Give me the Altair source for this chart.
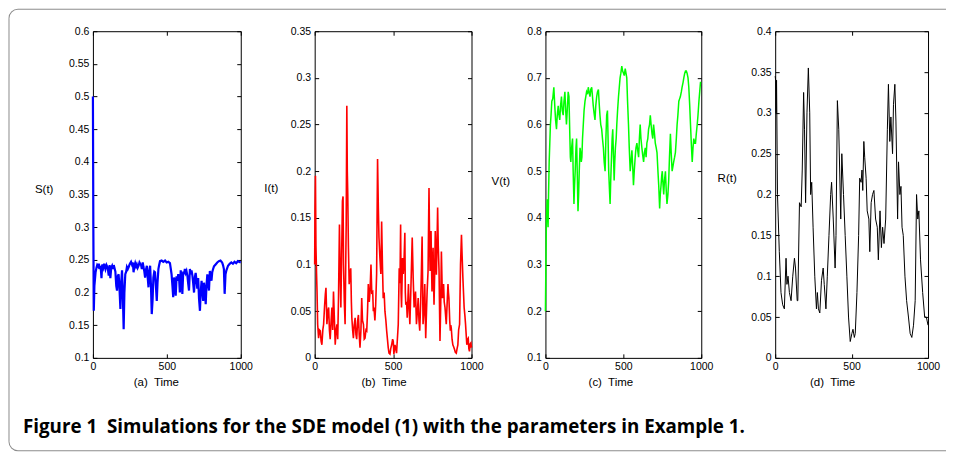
import altair as alt
import pandas as pd

# ---------------- data ----------------
X_TICKS = [0, 500, 1000]

S_T = [0, 3, 6, 10, 18, 24, 29, 35, 40, 46,
       52, 58, 63, 70, 76, 85, 92, 100, 107, 113,
       118, 124, 130, 136, 141, 152, 158, 163, 168, 174,
       180, 186, 191, 197, 203, 208, 213, 219, 225, 230,
       236, 242, 248, 253, 258, 264, 270, 275, 280, 286,
       292, 297, 303, 309, 315, 320, 326, 331, 337, 342,
       348, 353, 359, 365, 370, 376, 381, 387, 392, 398,
       404, 409, 415, 420, 426, 432, 437, 443, 448, 454,
       465, 476, 488, 499, 510, 521, 527, 532, 538, 543,
       549, 555, 560, 566, 572, 577, 583, 588, 594, 600,
       605, 611, 617, 622, 628, 633, 639, 645, 650, 656,
       662, 667, 673, 678, 684, 690, 695, 701, 706, 712,
       718, 724, 729, 735, 740, 746, 751, 757, 763, 768,
       774, 779, 785, 791, 796, 802, 807, 813, 819, 830,
       841, 852, 863, 874, 880, 886, 891, 897, 903, 914,
       925, 936, 947, 958, 969, 980, 1000]
S_V = [0.50, 0.30, 0.172, 0.21, 0.231, 0.238, 0.242, 0.240, 0.244, 0.236,
       0.241, 0.222, 0.243, 0.238, 0.244, 0.236, 0.242, 0.238, 0.226, 0.242,
       0.222, 0.238, 0.241, 0.236, 0.242, 0.232, 0.210, 0.203, 0.225, 0.228,
       0.205, 0.175, 0.215, 0.234, 0.190, 0.144, 0.200, 0.228, 0.232, 0.239,
       0.236, 0.239, 0.243, 0.245, 0.247, 0.243, 0.246, 0.231, 0.240, 0.245,
       0.240, 0.243, 0.238, 0.241, 0.246, 0.244, 0.242, 0.236, 0.246, 0.239,
       0.232, 0.223, 0.235, 0.241, 0.225, 0.208, 0.232, 0.241, 0.215, 0.167,
       0.190, 0.223, 0.232, 0.231, 0.210, 0.187, 0.215, 0.236, 0.242, 0.248,
       0.249, 0.247, 0.249, 0.246, 0.247, 0.245, 0.236, 0.228, 0.210, 0.193,
       0.223, 0.215, 0.195, 0.225, 0.218, 0.228, 0.222, 0.200, 0.234, 0.220,
       0.198, 0.232, 0.228, 0.236, 0.230, 0.233, 0.226, 0.213, 0.203, 0.236,
       0.228, 0.234, 0.226, 0.215, 0.200, 0.224, 0.230, 0.218, 0.206, 0.222,
       0.190, 0.172, 0.200, 0.218, 0.203, 0.187, 0.215, 0.205, 0.182, 0.210,
       0.228, 0.215, 0.203, 0.233, 0.228, 0.218, 0.231, 0.236, 0.240, 0.243,
       0.246, 0.248, 0.249, 0.246, 0.242, 0.236, 0.198, 0.228, 0.234, 0.241,
       0.244, 0.246, 0.244, 0.247, 0.245, 0.248, 0.246]

I_T = [0, 2, 5, 8, 12, 15, 19, 25, 30, 36,
       41, 46, 52, 57, 63, 68, 72, 78, 84, 89,
       94, 99, 105, 110, 115, 120, 126, 131, 137, 142,
       147, 152, 158, 163, 167, 172, 177, 181, 184, 189,
       194, 198, 201, 205, 208, 211, 215, 220, 225, 230,
       234, 237, 242, 247, 252, 258, 263, 268, 274, 279,
       284, 289, 295, 300, 305, 311, 316, 321, 327, 332,
       337, 342, 348, 353, 359, 364, 370, 374, 378, 384,
       389, 395, 401, 406, 410, 416, 422, 427, 432, 437,
       443, 448, 454, 459, 464, 469, 474, 480, 485, 491,
       497, 501, 505, 512, 517, 522, 533, 539, 544, 548,
       551, 554, 560, 565, 569, 575, 578, 581, 586, 590,
       594, 598, 603, 607, 613, 622, 628, 634, 638, 643,
       649, 655, 660, 665, 670, 676, 681, 685, 691, 697,
       702, 708, 713, 717, 723, 729, 733, 736, 742, 745,
       748, 755, 758, 761, 765, 769, 773, 776, 780, 784,
       788, 793, 799, 804, 808, 811, 814, 818, 822, 826,
       831, 835, 839, 845, 850, 853, 856, 861, 865, 868,
       871, 876, 881, 886, 892, 897, 903, 908, 913, 918,
       924, 930, 936, 940, 945, 949, 953, 958, 962, 966,
       970, 975, 979, 983, 987, 992, 996, 1000]
I_V = [0.10, 0.16, 0.195, 0.12, 0.09, 0.071, 0.036, 0.021, 0.03, 0.029,
       0.018, 0.014, 0.03, 0.036, 0.055, 0.068, 0.075, 0.036, 0.05, 0.054,
       0.03, 0.02, 0.04, 0.054, 0.03, 0.071, 0.04, 0.014, 0.03, 0.036,
       0.02, 0.064, 0.143, 0.09, 0.054, 0.11, 0.168, 0.173, 0.1, 0.06,
       0.036, 0.1, 0.143, 0.27, 0.2, 0.175, 0.12, 0.079, 0.09, 0.096,
       0.06, 0.043, 0.03, 0.021, 0.035, 0.043, 0.025, 0.02, 0.04, 0.046,
       0.025, 0.011, 0.03, 0.064, 0.04, 0.036, 0.02, 0.021, 0.03, 0.029,
       0.05, 0.079, 0.06, 0.071, 0.1, 0.07, 0.071, 0.05, 0.054, 0.04,
       0.057, 0.09, 0.213, 0.16, 0.129, 0.107, 0.09, 0.146, 0.1, 0.064,
       0.07, 0.05, 0.04, 0.029, 0.02, 0.011, 0.005, 0.004, 0.01, 0.014,
       0.02, 0.018, 0.004, 0.014, 0.01, 0.005, 0.036, 0.096, 0.08, 0.143,
       0.07, 0.054, 0.107, 0.09, 0.1, 0.134, 0.07, 0.057, 0.06, 0.043,
       0.06, 0.079, 0.05, 0.036, 0.071, 0.129, 0.086, 0.054, 0.06, 0.071,
       0.036, 0.05, 0.064, 0.04, 0.029, 0.06, 0.096, 0.13, 0.036, 0.05,
       0.079, 0.021, 0.05, 0.071, 0.093, 0.182, 0.12, 0.093, 0.136, 0.1,
       0.071, 0.118, 0.08, 0.057, 0.09, 0.136, 0.11, 0.089, 0.12, 0.161,
       0.12, 0.093, 0.018, 0.06, 0.114, 0.09, 0.064, 0.07, 0.079, 0.06,
       0.054, 0.045, 0.036, 0.06, 0.079, 0.07, 0.064, 0.04, 0.029, 0.035,
       0.032, 0.02, 0.014, 0.012, 0.009, 0.006, 0.005, 0.01, 0.014, 0.03,
       0.036, 0.1, 0.132, 0.11, 0.086, 0.07, 0.054, 0.045, 0.036, 0.025,
       0.014, 0.02, 0.021, 0.01, 0.007, 0.015, 0.016, 0.011]

V_T = [0, 3, 6, 11, 14, 17, 20, 24, 28, 32,
       36, 41, 47, 54, 57, 60, 65, 71, 76, 82,
       87, 92, 97, 103, 108, 114, 119, 125, 130, 135,
       140, 146, 151, 157, 160, 163, 168, 174, 178, 183,
       187, 191, 196, 200, 204, 209, 213, 217, 222, 226,
       230, 234, 238, 243, 248, 254, 259, 264, 270, 275,
       280, 286, 291, 297, 302, 307, 312, 318, 323, 329,
       334, 340, 345, 350, 355, 361, 366, 372, 377, 383,
       388, 393, 398, 402, 406, 411, 415, 419, 424, 428,
       432, 437, 441, 445, 449, 454, 458, 463, 469, 474,
       479, 484, 490, 495, 501, 506, 512, 517, 522, 527,
       533, 538, 544, 549, 555, 560, 565, 570, 576, 581,
       587, 592, 598, 603, 608, 613, 619, 624, 630, 635,
       641, 646, 651, 657, 662, 668, 673, 678, 684, 689,
       694, 700, 705, 711, 716, 722, 727, 733, 737, 742,
       746, 750, 755, 759, 764, 770, 775, 780, 786, 791,
       796, 802, 807, 813, 818, 823, 829, 834, 840, 845,
       850, 856, 861, 866, 872, 877, 883, 888, 894, 899,
       904, 909, 915, 920, 926, 931, 936, 942, 947, 952,
       958, 963, 968, 974, 979, 985, 990, 995, 1000]
V_V = [0.20, 0.30, 0.39, 0.44, 0.41, 0.38, 0.45, 0.52, 0.56, 0.60,
       0.62, 0.65, 0.655, 0.68, 0.66, 0.64, 0.61, 0.59, 0.62, 0.64,
       0.62, 0.61, 0.64, 0.66, 0.63, 0.62, 0.65, 0.67, 0.63, 0.60,
       0.63, 0.67, 0.66, 0.57, 0.53, 0.52, 0.55, 0.57, 0.50, 0.43,
       0.47, 0.50, 0.55, 0.57, 0.50, 0.414, 0.45, 0.50, 0.55, 0.54,
       0.52, 0.53, 0.57, 0.60, 0.63, 0.65, 0.66, 0.67, 0.665, 0.68,
       0.67, 0.66, 0.675, 0.68, 0.66, 0.64, 0.625, 0.61, 0.64, 0.66,
       0.67, 0.675, 0.645, 0.62, 0.60, 0.59, 0.57, 0.55, 0.52, 0.50,
       0.57, 0.62, 0.63, 0.57, 0.50, 0.46, 0.43, 0.48, 0.53, 0.57,
       0.59, 0.53, 0.48, 0.52, 0.55, 0.57, 0.60, 0.63, 0.66, 0.68,
       0.70, 0.71, 0.725, 0.715, 0.71, 0.705, 0.72, 0.71, 0.70, 0.65,
       0.60, 0.55, 0.50, 0.52, 0.545, 0.51, 0.47, 0.50, 0.53, 0.55,
       0.56, 0.545, 0.53, 0.57, 0.60, 0.57, 0.55, 0.535, 0.52, 0.54,
       0.55, 0.53, 0.56, 0.57, 0.59, 0.60, 0.62, 0.60, 0.58, 0.57,
       0.60, 0.58, 0.56, 0.55, 0.54, 0.50, 0.47, 0.42, 0.45, 0.47,
       0.49, 0.50, 0.47, 0.45, 0.48, 0.50, 0.46, 0.43, 0.45, 0.48,
       0.53, 0.58, 0.54, 0.50, 0.51, 0.52, 0.53, 0.54, 0.57, 0.60,
       0.62, 0.65, 0.655, 0.66, 0.67, 0.68, 0.69, 0.70, 0.71, 0.715,
       0.715, 0.71, 0.70, 0.68, 0.64, 0.60, 0.56, 0.52, 0.55, 0.57,
       0.56, 0.56, 0.58, 0.60, 0.62, 0.65, 0.67, 0.69, 0.69]

R_T = [0, 3, 6, 9, 15, 27, 38, 49, 60, 71,
       77, 84, 93, 104, 115, 126, 133, 144, 148, 159,
       170, 177, 186, 192, 199, 208, 217, 226, 232, 239,
       248, 259, 270, 276, 283, 292, 303, 314, 321, 332,
       341, 352, 363, 369, 380, 392, 398, 407, 416, 429,
       436, 447, 458, 469, 480, 491, 502, 509, 518, 524,
       535, 546, 553, 562, 568, 573, 580, 586, 595, 602,
       613, 619, 628, 637, 646, 657, 668, 675, 686, 695,
       703, 712, 723, 734, 741, 750, 757, 768, 774, 783,
       790, 801, 807, 816, 823, 830, 838, 849, 860, 872,
       883, 894, 905, 916, 925, 933, 940, 951, 965, 978,
       989, 1000]
R_V = [0.345, 0.34, 0.30, 0.34, 0.20, 0.13, 0.08, 0.065, 0.06, 0.122,
       0.09, 0.10, 0.08, 0.07, 0.10, 0.122, 0.11, 0.07, 0.07, 0.19,
       0.185, 0.23, 0.325, 0.28, 0.19, 0.30, 0.355, 0.30, 0.20, 0.215,
       0.16, 0.10, 0.06, 0.08, 0.06, 0.055, 0.095, 0.11, 0.09, 0.06,
       0.10, 0.15, 0.20, 0.215, 0.17, 0.11, 0.15, 0.315, 0.28, 0.17,
       0.25, 0.20, 0.15, 0.10, 0.05, 0.02, 0.03, 0.035, 0.025, 0.03,
       0.08, 0.15, 0.22, 0.215, 0.23, 0.205, 0.265, 0.245, 0.22, 0.18,
       0.17, 0.13, 0.19, 0.20, 0.205, 0.17, 0.16, 0.12, 0.18, 0.135,
       0.16, 0.14, 0.17, 0.28, 0.335, 0.265, 0.295, 0.25, 0.31, 0.335,
       0.29, 0.17, 0.24, 0.20, 0.21, 0.16, 0.15, 0.10, 0.07, 0.05,
       0.03, 0.025, 0.04, 0.07, 0.20, 0.17, 0.18, 0.12, 0.08, 0.05,
       0.05, 0.04]

S_TICKS = [0.1, 0.15, 0.2, 0.25, 0.3, 0.35, 0.4, 0.45, 0.5, 0.55, 0.6]
I_TICKS = [0, 0.05, 0.1, 0.15, 0.2, 0.25, 0.3, 0.35]
V_TICKS = [0.1, 0.2, 0.3, 0.4, 0.5, 0.6, 0.7, 0.8]
R_TICKS = [0, 0.05, 0.1, 0.15, 0.2, 0.25, 0.3, 0.35, 0.4]

CAPTION = "Figure 1\u00a0 Simulations for the SDE model (1) with the parameters in Example 1."

H = 327
FONT = "Liberation Sans, Arial, Helvetica, sans-serif"
YLAB = "format(datum.value, '.2~f')"
FRAME = "#8c8c8c"


def panel(t, v, color, sw, ydom, yticks, ytitle, xtitle, w, ytx, yty, xtx, extra=()):
    assert len(t) == len(v)
    df = pd.DataFrame({"t": t, "v": v})
    xs = alt.Scale(domain=[0, 1000], nice=False, zero=False)
    ys = alt.Scale(domain=ydom, nice=False, zero=False)
    main = alt.Chart(df).mark_line(color=color, strokeWidth=sw).encode(
        x=alt.X("t:Q", scale=xs, title=xtitle,
                axis=alt.Axis(values=X_TICKS, format="d", ticks=False, domain=False,
                              grid=False, labelPadding=4, labelFlush=False,
                              titleX=xtx, titleY=25, titleAlign="center",
                              titleBaseline="middle")),
        y=alt.Y("v:Q", scale=ys, title=ytitle,
                axis=alt.Axis(values=yticks, labelExpr=YLAB, ticks=False, domain=False,
                              grid=False, labelPadding=4, labelFlush=False,
                              titleAngle=0, titleAlign="right", titleBaseline="middle",
                              titleX=ytx, titleY=yty)),
        order="t:Q",
    )
    tk = dict(labels=False, domain=False, grid=False, ticks=True, tickSize=4,
              tickColor="black", tickWidth=1)
    inner1 = alt.Chart(df).mark_line(opacity=0).encode(
        x=alt.X("t:Q", scale=xs, title="",
                axis=alt.Axis(orient="top", offset=-H, values=X_TICKS, **tk)),
        y=alt.Y("v:Q", scale=ys, title="",
                axis=alt.Axis(orient="right", offset=-w, values=yticks, **tk)),
    )
    inner2 = alt.Chart(df).mark_line(opacity=0).encode(
        x=alt.X("t:Q", scale=xs, title="",
                axis=alt.Axis(orient="bottom", offset=-H, values=X_TICKS, **tk)),
        y=alt.Y("v:Q", scale=ys, title="",
                axis=alt.Axis(orient="left", offset=-w, values=yticks, **tk)),
    )
    return alt.layer(main, inner1, inner2, *extra).resolve_axis(
        x="independent", y="independent").properties(width=w, height=H)


# decorative figure frame and caption (pixel offsets relative to panel (a))
one = pd.DataFrame({"k": [0]})
FL, FT, FB, FR, RAD = -84, -22, 420, 854, 9
frame = [
    alt.Chart(one).mark_rule(color=FRAME, strokeWidth=1).encode(
        x=alt.value(FL + RAD), x2=alt.value(FR), y=alt.value(FT)),
    alt.Chart(one).mark_rule(color=FRAME, strokeWidth=1).encode(
        x=alt.value(FL + RAD), x2=alt.value(FR), y=alt.value(FB)),
    alt.Chart(one).mark_rule(color=FRAME, strokeWidth=1).encode(
        x=alt.value(FL), y=alt.value(FT + RAD), y2=alt.value(FB - RAD)),
    alt.Chart(one).mark_arc(color=FRAME, radius=RAD + 0.5, radius2=RAD - 0.5,
                            theta=4.712, theta2=6.2832).encode(
        x=alt.value(FL + RAD), y=alt.value(FT + RAD)),
    alt.Chart(one).mark_arc(color=FRAME, radius=RAD + 0.5, radius2=RAD - 0.5,
                            theta=3.1416, theta2=4.712).encode(
        x=alt.value(FL + RAD), y=alt.value(FB - RAD)),
    alt.Chart(one).mark_text(align="left", baseline="middle", fontSize=18.8,
                             font="Open Sans, Liberation Sans, sans-serif",
                             fontWeight="bold", color="black").encode(
        x=alt.value(-70), y=alt.value(396), text=alt.value(CAPTION)),
]

pa = panel(S_T, S_V, "#0000ff", 2.2, [0.1, 0.6], S_TICKS, "S(t)", "(a)\u00a0 Time",
           148, -40, 158, 63, extra=frame)
pb = panel(I_T, I_V, "#ff0000", 1.6, [0, 0.35], I_TICKS, "I(t)", "(b)\u00a0 Time",
           157, -37, 157, 69)
pc = panel(V_T, V_V, "#00ff00", 1.5, [0.1, 0.8], V_TICKS, "V(t)", "(c)\u00a0 Time",
           156, -36, 150, 65)
pd_ = panel(R_T, R_V, "#000000", 1.0, [0, 0.4], R_TICKS, "R(t)", "(d)\u00a0 Time",
            153, -39, 147, 57)

chart = alt.hconcat(pa, pb, pc, pd_, spacing=74, bounds="flush").properties(
    padding={"left": 0, "top": 0, "right": 0, "bottom": 0},
    background="white",
).configure_view(stroke="black", strokeWidth=1).configure_axis(
    labelFont=FONT, labelFontSize=10.5, labelColor="black",
    titleFont=FONT, titleFontSize=11.5, titleFontWeight="normal", titleColor="black",
)

chart.save("out.html", embed_options={"renderer": "svg", "actions": False})
